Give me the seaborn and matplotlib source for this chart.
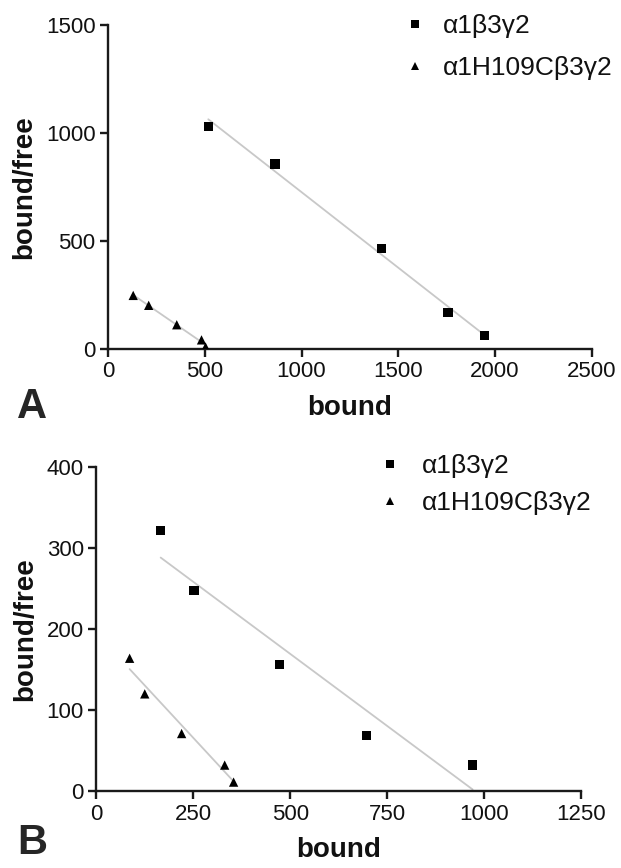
import pandas as pd
from matplotlib import pyplot as plt
import seaborn as sns
import numpy as np

sns.set_theme(style="white")
plt.rcParams["font.family"] = ["Liberation Sans", "DejaVu Sans"]

labels = ["α1β3γ2", "α1H109Cβ3γ2"]

# panel A
a_wt_bound = [518, 863, 1412, 1756, 1946]
a_wt_ratio = [1031, 857, 466, 169, 62]
a_mut_bound = [130, 210, 355, 483, 504]
a_mut_ratio = [248, 202, 112, 42, 9]

# panel B
b_wt_bound = [166, 252, 472, 696, 970]
b_wt_ratio = [322, 248, 156, 69, 32]
b_mut_bound = [86, 125, 220, 331, 354]
b_mut_ratio = [164, 120, 71, 32, 11]

fig = plt.figure(figsize=(6.21, 8.68), dpi=100)
ax_a = fig.add_axes([0.174, 0.598, 0.779, 0.373])
ax_b = fig.add_axes([0.155, 0.0887, 0.781, 0.373])


def panel(ax, wt_x, wt_y, mut_x, mut_y, xmax, ymax, xstep, ystep, leg_anchor, tpad, lspace):
    df = pd.DataFrame({
        "bound": wt_x + mut_x,
        "ratio": wt_y + mut_y,
        "receptor": [labels[0]] * len(wt_x) + [labels[1]] * len(mut_x),
    })
    for lab in labels:
        sub = df[df["receptor"] == lab]
        sns.regplot(data=sub, x="bound", y="ratio", ax=ax, scatter=False, ci=None,
                    truncate=True, line_kws={"color": "#c8c8c8", "lw": 1.3})
    sns.scatterplot(data=df, x="bound", y="ratio", style="receptor",
                    markers={labels[0]: "s", labels[1]: "^"}, color="black",
                    s=45, edgecolor="black", linewidth=0, ax=ax, zorder=3)
    ax.set_xlim(0, xmax)
    ax.set_ylim(0, ymax)
    ax.set_xticks(np.arange(0, xmax + 1, xstep))
    ax.set_yticks(np.arange(0, ymax + 1, ystep))
    sns.despine(ax=ax)
    for s in ["left", "bottom"]:
        ax.spines[s].set_linewidth(1.7)
        ax.spines[s].set_color("#1a1a1a")
    ax.tick_params(direction="out", length=6, width=1.7, color="#1a1a1a",
                   labelsize=16, labelcolor="#111111", left=True, bottom=True, pad=3)
    ax.set_xlabel("bound", fontsize=20, fontweight="bold", labelpad=9, color="#111111")
    ax.set_ylabel("bound/free", fontsize=20, fontweight="bold", labelpad=6, color="#111111")
    handles, labs = ax.get_legend_handles_labels()
    for h in handles:
        h.set_markersize(5.5)
    ax.legend(handles, labs, loc="upper left", bbox_to_anchor=leg_anchor,
              bbox_transform=fig.transFigure, frameon=False, fontsize=19,
              handlelength=1.0, handletextpad=tpad, labelspacing=lspace, borderpad=0,
              borderaxespad=0, labelcolor="#111111")


panel(ax_a, a_wt_bound, a_wt_ratio, a_mut_bound, a_mut_ratio, 2500, 1500, 500, 500,
      (402 / 621, 1 - 14 / 868), 0.54, 0.7)
panel(ax_b, b_wt_bound, b_wt_ratio, b_mut_bound, b_mut_ratio, 1250, 400, 250, 100,
      (377 / 621, 1 - 454 / 868), 0.69, 0.5)

fig.text(17 / 621, 1 - 407 / 868, "A", fontsize=30, fontweight="bold", va="center", ha="left")
fig.text(17 / 621, 1 - 843 / 868, "B", fontsize=30, fontweight="bold", va="center", ha="left")

fig.savefig("out.png", dpi=100, facecolor="white")
